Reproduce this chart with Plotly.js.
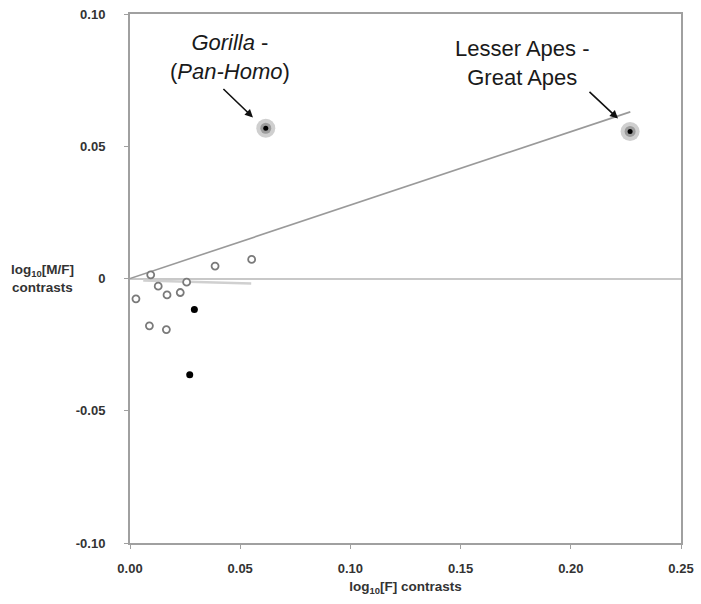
<!DOCTYPE html>
<html>
<head>
<meta charset="utf-8">
<script src="https://cdn.plot.ly/plotly-3.0.1.min.js"></script>
<style>html,body{margin:0;padding:0;background:#fff;}#chart{width:701px;height:604px;}</style>
</head>
<body>
<div id="chart"></div>
<script>
// Open (hollow) contrast points
const openX = [0.0094, 0.0128, 0.0027, 0.0168, 0.0228, 0.0257, 0.0386, 0.0552, 0.0088, 0.0165];
const openY = [0.0014, -0.0029, -0.0077, -0.0062, -0.0053, -0.0014, 0.0047, 0.0072, -0.0179, -0.0193];
// Filled (black) contrast points
const filledX = [0.0292, 0.0271];
const filledY = [-0.0117, -0.0364];
// Highlighted contrasts
const highlightX = [0.0616, 0.2269];
const highlightY = [0.0568, 0.0556];
const highlightLabels = ["<i>Gorilla</i> -<br>(<i>Pan-Homo</i>)", "Lesser Apes -<br>Great Apes"];
// Regression lines (endpoints)
const fitAllX = [0, 0.227];
const fitAllY = [0, 0.063];
const fitSubX = [0.006, 0.055];
const fitSubY = [-0.0008, -0.0019];
// Tick labels
const xTickVals = [0, 0.05, 0.10, 0.15, 0.20, 0.25];
const xTickText = ["0.00", "0.05", "0.10", "0.15", "0.20", "0.25"];
const yTickVals = [-0.10, -0.05, 0, 0.05, 0.10];
const yTickText = ["-0.10", "-0.05", "0", "0.05", "0.10"];

const traces = [
  {x: fitSubX, y: fitSubY, mode: 'lines', line: {color: '#d0d0d0', width: 2.5}, hoverinfo: 'skip'},
  {x: fitAllX, y: fitAllY, mode: 'lines', line: {color: '#9a9a9a', width: 1.6}, hoverinfo: 'skip'},
  {x: openX, y: openY, mode: 'markers', marker: {size: 7, color: '#ffffff', line: {color: '#7a7a7a', width: 1.8}}},
  {x: filledX, y: filledY, mode: 'markers', marker: {size: 7, color: '#000000'}},
  {x: highlightX, y: highlightY, mode: 'markers', marker: {size: 19, color: '#cfcfcf'}},
  {x: highlightX, y: highlightY, mode: 'markers', marker: {size: 11, color: '#9c9c9c'}},
  {x: highlightX, y: highlightY, mode: 'markers', marker: {size: 5, color: '#000000'}}
];

const tickFont = {family: 'Liberation Sans, Arial, sans-serif', size: 13, color: '#333', weight: 'bold'};
const titleFont = {family: 'Liberation Sans, Arial, sans-serif', size: 13.5, color: '#333', weight: 'bold'};

const layout = {
  width: 701, height: 604,
  margin: {l: 130, r: 20, t: 14, b: 61},
  paper_bgcolor: '#fff', plot_bgcolor: '#fff',
  showlegend: false,
  xaxis: {
    range: [0, 0.25], tickvals: xTickVals, ticktext: xTickText,
    showgrid: false, zeroline: false,
    showline: true, linecolor: '#a0a0a0', linewidth: 2, mirror: true,
    ticks: 'outside', ticklen: 4, tickcolor: '#a0a0a0', tickwidth: 1,
    ticklabelstandoff: 8,
    tickfont: tickFont,
    title: {text: 'log<sub>10</sub>[F] contrasts', font: titleFont, standoff: 7}
  },
  yaxis: {
    range: [-0.10, 0.10], tickvals: yTickVals, ticktext: yTickText,
    showgrid: false, zeroline: true, zerolinecolor: '#c8c8c8', zerolinewidth: 2,
    showline: true, linecolor: '#a0a0a0', linewidth: 2, mirror: true,
    ticks: 'outside', ticklen: 4, tickcolor: '#a0a0a0', tickwidth: 1,
    ticklabelstandoff: 16,
    tickfont: tickFont
  },
  annotations: [
    {xref: 'paper', yref: 'paper', x: -0.158, y: 0.5, xanchor: 'center', yanchor: 'middle',
     text: 'log<sub>10</sub>[M/F]<br>contrasts', showarrow: false, font: titleFont},
    {x: 0.0454, y: 0.0836, xref: 'x', yref: 'y', text: highlightLabels[0], showarrow: false,
     font: {family: 'Liberation Sans, Arial, sans-serif', size: 22, color: '#1a1a1a'}},
    {x: 0.178, y: 0.0815, xref: 'x', yref: 'y', text: highlightLabels[1], showarrow: false,
     font: {family: 'Liberation Sans, Arial, sans-serif', size: 22, color: '#1a1a1a'}},
    {x: 0.0558, y: 0.0609, xref: 'x', yref: 'y', axref: 'x', ayref: 'y', ax: 0.0417, ay: 0.0722,
     text: '', showarrow: true, arrowhead: 2, arrowsize: 1, arrowwidth: 1.6, arrowcolor: '#111'},
    {x: 0.2214, y: 0.0605, xref: 'x', yref: 'y', axref: 'x', ayref: 'y', ax: 0.2078, ay: 0.0711,
     text: '', showarrow: true, arrowhead: 2, arrowsize: 1, arrowwidth: 1.6, arrowcolor: '#111'}
  ]
};

Plotly.newPlot('chart', traces, layout, {displayModeBar: false, staticPlot: true});
</script>
</body>
</html>
